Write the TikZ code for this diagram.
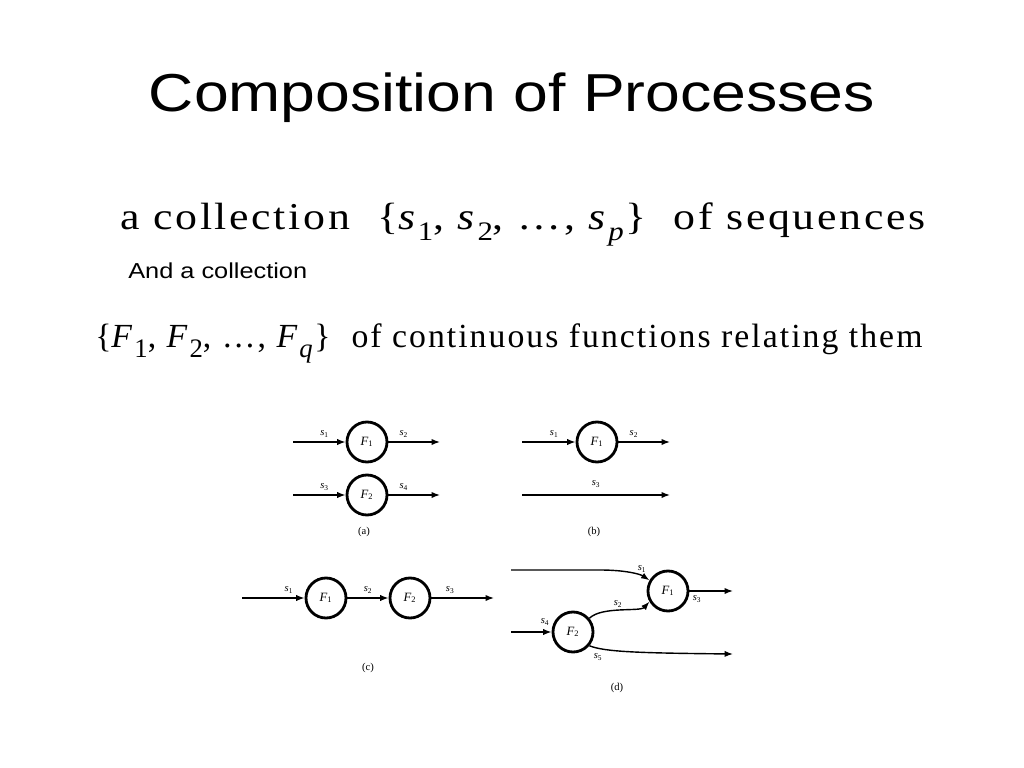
\documentclass[tikz,border=0pt]{standalone}
\usepackage{fontspec}
\setmainfont{Liberation Serif}
\newfontfamily\arialfont{Liberation Sans}
\newfontfamily\wideserif[LetterSpace=6]{Liberation Serif}
\newfontfamily\spacedserif[LetterSpace=6]{Liberation Serif}
\usetikzlibrary{arrows.meta}
\newcommand{\ssub}[2]{\textit{#1}\textsubscript{#2}}
\newcommand{\lsub}[1]{\raisebox{-0.3em}{\fontsize{19}{20}\selectfont #1}}
\tikzset{
	proc/.style={circle,draw,line width=2pt,minimum size=1cm,inner sep=0pt,font=\fontsize{9}{10}\selectfont},
	sig/.style={line width=1pt,-{Latex[length=6pt,width=4.5pt]}},
	lab/.style={font=\fontsize{7.5}{8}\selectfont,inner sep=0pt},
	figcap/.style={font=\fontsize{7.5}{9}\selectfont,inner sep=0pt}
}
\begin{document}
\begin{tikzpicture}[x=0.025cm,y=-0.025cm]
	\useasboundingbox[fill=white] (0,0) rectangle (1024,768);

	% title and text
	\node[anchor=base,font=\arialfont\fontsize{38}{40}\selectfont,inner sep=0pt] (title) at (512,112) {\scalebox{1.17}[1]{Composition of Processes}};
	\node[anchor=base west,font=\wideserif\fontsize{27}{30}\selectfont,inner sep=0pt] (seqs) at (120,229)
		{\scalebox{1.155}[1]{a collection\ \ \{\textit{s}\lsub{1}, \textit{s}\lsub{2}, …, \textit{s}\lsub{\textit{p}}\}\ \ of sequences}};
	\node[anchor=base west,font=\arialfont\fontsize{15.4}{17}\selectfont,inner sep=0pt] (and) at (128,278) {\scalebox{1.17}[1]{And a collection}};
	\node[anchor=base west,font=\spacedserif\fontsize{24}{28}\selectfont,inner sep=0pt] (funcs) at (95,347)
		{\{\textit{F}\lsub{1}, \textit{F}\lsub{2}, …, \textit{F}\lsub{\textit{q}}\}\ \ of continuous functions relating them};

	% (a)
	\node[proc] (fa1) at (367,442) {\ssub{F}{1}};
	\node[proc] (fa2) at (367,495) {\ssub{F}{2}};
	\coordinate (ina1) at (293,442);
	\coordinate (outa1) at (440,442);
	\coordinate (ina2) at (293,495);
	\coordinate (outa2) at (440,495);
	\draw[sig] (ina1) -- (fa1) node[lab,pos=0.6,above=3pt]{\ssub{s}{1}};
	\draw[sig] (fa1) -- (outa1) node[lab,pos=0.3,above=3pt]{\ssub{s}{2}};
	\draw[sig] (ina2) -- (fa2) node[lab,pos=0.6,above=3pt]{\ssub{s}{3}};
	\draw[sig] (fa2) -- (outa2) node[lab,pos=0.3,above=3pt]{\ssub{s}{4}};
	\node[figcap] (capa) at (364,532) {(a)};

	% (b)
	\node[proc] (fb1) at (597,442) {\ssub{F}{1}};
	\coordinate (inb1) at (522,442);
	\coordinate (outb1) at (670,442);
	\coordinate (inb3) at (522,495);
	\coordinate (outb3) at (670,495);
	\draw[sig] (inb1) -- (fb1) node[lab,pos=0.6,above=3pt]{\ssub{s}{1}};
	\draw[sig] (fb1) -- (outb1) node[lab,pos=0.3,above=3pt]{\ssub{s}{2}};
	\draw[sig] (inb3) -- (outb3) node[lab,midway,above=5pt]{\ssub{s}{3}};
	\node[figcap] (capb) at (594,532) {(b)};

	% (c)
	\node[proc] (fc1) at (326,598) {\ssub{F}{1}};
	\node[proc] (fc2) at (410,598) {\ssub{F}{2}};
	\coordinate (inc) at (242,598);
	\coordinate (outc) at (494,598);
	\draw[sig] (inc) -- (fc1) node[lab,pos=0.75,above=3pt]{\ssub{s}{1}};
	\draw[sig] (fc1) -- (fc2) node[lab,midway,above=3pt]{\ssub{s}{2}};
	\draw[sig] (fc2) -- (outc) node[lab,pos=0.3,above=3pt]{\ssub{s}{3}};
	\node[figcap] (capc) at (368,668) {(c)};

	% (d)
	\node[proc] (fd1) at (668,591) {\ssub{F}{1}};
	\node[proc] (fd2) at (573,632) {\ssub{F}{2}};
	\coordinate (ind1) at (511,570);
	\coordinate (ind4) at (511,632);
	\coordinate (outd3) at (733,591);
	\coordinate (outd5) at (733,654);
	\draw[sig] (ind1) -- (600,570) .. controls (625,570) and (640,574) .. (fd1.150);
	\draw[sig] (fd2.40) .. controls (602,606) and (640,612) .. (fd1.210);
	\draw[sig] (fd1) -- (outd3);
	\draw[sig] (ind4) -- (fd2);
	\draw[sig] (fd2.320) .. controls (605,652) and (640,653) .. (outd5);
	\node[lab] (s1d) at (642,569) {\ssub{s}{1}};
	\node[lab] (s2d) at (618,604) {\ssub{s}{2}};
	\node[lab] (s3d) at (697,599) {\ssub{s}{3}};
	\node[lab] (s4d) at (545,622) {\ssub{s}{4}};
	\node[lab] (s5d) at (598,657) {\ssub{s}{5}};
	\node[figcap] (capd) at (617,688) {(d)};
\end{tikzpicture}
\end{document}
